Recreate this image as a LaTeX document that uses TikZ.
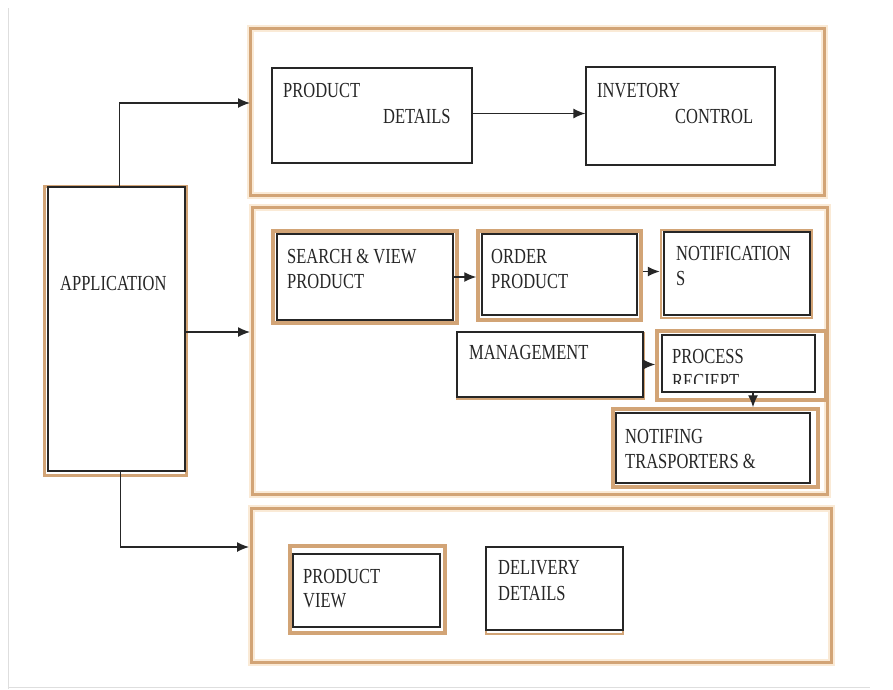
\documentclass[tikz,border=0pt]{standalone}
\usepackage{fontspec}
\setmainfont{Liberation Serif}
\usetikzlibrary{arrows.meta,fit}
\definecolor{orng}{RGB}{210,164,118}
\definecolor{glow}{RGB}{250,234,214}
\definecolor{ink}{RGB}{38,38,38}
\definecolor{frm}{RGB}{222,222,222}
\newcommand{\T}[1]{\scalebox{1}[1.3]{#1}}
\begin{document}
\begin{tikzpicture}[x=1pt,y=-1pt,
  cont/.style={draw=orng, line width=3pt, preaction={draw=glow,line width=7pt}, rectangle, inner sep=0pt},
  orb/.style={draw=orng, line width=3.5pt, fill=white, rectangle, inner sep=0pt},
  blk/.style={draw=ink, line width=1.3pt, fill=white, rectangle, inner sep=0pt},
  txt/.style={anchor=base west, inner sep=0pt, text=ink, font=\fontsize{16.5}{20}\selectfont},
  arr/.style={draw=ink, line width=1.3pt, -{Latex[length=12pt,width=10pt]}}]
\useasboundingbox (0,0) rectangle (893,689);
\fill[white] (0,0) rectangle (893,689);
% faint frame
\draw[frm, line width=1pt] (8,8) -- (8,689);
\draw[frm, line width=1pt] (8,687) -- (870,687);
% containers
\node[cont, fit={(250,28) (824,195)}] (c1) {};
\node[cont, fit={(252,207) (827,494)}] (c2) {};
\node[cont, fit={(251,508) (831,662)}] (c3) {};
% application
\node[orb, line width=3pt, fit={(44,186) (186,475)}] (appo) {};
\node[blk, fit={(48,187) (185,471)}] (app) {};
% top group
\node[blk, fit={(272,68) (472,163)}] (pd) {};
\node[blk, fit={(586,67) (775,165)}] (inv) {};
% middle group
\node[orb, fit={(273,231) (457,323)}] (svo) {};
\node[blk, fit={(277,234) (453,320)}] (sv) {};
\node[orb, fit={(478,231) (641,320)}] (opo) {};
\node[blk, fit={(482,234) (637,315)}] (op) {};
\node[orb, line width=2.5pt, fit={(661,230) (812,318)}] (nto) {};
\node[blk, fit={(664,232) (810,315)}] (nt) {};
\node[orb, line width=2pt, fit={(457,333) (644,399)}] (mgo) {};
\node[blk, fit={(457,332) (643,397)}] (mg) {};
\node[orb, fit={(657,331) (826,400)}] (pro) {};
\node[blk, fit={(662,335) (815,392)}] (pr) {};
\node[orb, fit={(613,409) (818,487)}] (nfo) {};
\node[blk, fit={(616,413) (810,483)}] (nf) {};
% bottom group
\node[orb, fit={(290,546) (445,633)}] (pvo) {};
\node[blk, fit={(293,554) (440,627)}] (pv) {};
\node[orb, line width=2.5pt, fit={(486,549) (623,634)}] (dlo) {};
\node[blk, fit={(486,547) (623,630)}] (dl) {};
% texts
\node[txt] (tapp) at (60,290) {\T{APPLICATION}};
\node[txt] (tpd1) at (283,97) {\T{PRODUCT}};
\node[txt] (tpd2) at (383,123) {\T{DETAILS}};
\node[txt] (tin1) at (597,97) {\T{INVETORY}};
\node[txt] (tin2) at (675,123) {\T{CONTROL}};
\node[txt] (tsv1) at (287,263) {\T{SEARCH \& VIEW}};
\node[txt] (tsv2) at (287,288) {\T{PRODUCT}};
\node[txt] (top1) at (491,263) {\T{ORDER}};
\node[txt] (top2) at (491,288) {\T{PRODUCT}};
\node[txt] (tnt1) at (676,260) {\T{NOTIFICATION}};
\node[txt] (tnt2) at (676,285) {\T{S}};
\node[txt] (tmg) at (469,359) {\T{MANAGEMENT}};
\node[txt] (tpr1) at (672,363) {\T{PROCESS}};
\begin{scope}
\clip (662,368) rectangle (815,383);
\node[txt] (tpr2) at (672,388) {\T{RECIEPT}};
\end{scope}
\node[txt] (tnf1) at (625,443) {\T{NOTIFING}};
\node[txt] (tnf2) at (625,468) {\T{TRASPORTERS \&}};
\node[txt] (tpv1) at (303,583) {\T{PRODUCT}};
\node[txt] (tpv2) at (303,607) {\T{VIEW}};
\node[txt] (tdl1) at (498,574) {\T{DELIVERY}};
\node[txt] (tdl2) at (498,600) {\T{DETAILS}};
% connectors
\coordinate (e1) at (250,103);
\coordinate (e2) at (250,332);
\coordinate (e3) at (249,547);
\draw[arr] ([xshift=3pt]app.north) |- (e1);
\draw[arr] (app.east |- e2) -- (e2);
\draw[arr] ([xshift=4pt]app.south) |- (e3);
\draw[arr] ([yshift=2pt]pd.east) -- ([yshift=2pt]pd.east -| inv.west);
\draw[arr] (sv.east) -- (sv.east -| opo.west);
\draw[arr] ([yshift=4pt]opo.east) -- ([yshift=4pt]opo.east -| nto.west);
\draw[arr] (mg.east) -- (mg.east -| pro.west);
\draw[arr] ([xshift=14.5pt]pr.south) -- ([xshift=14.5pt]pr.south |- nfo.north);
\end{tikzpicture}
\end{document}
